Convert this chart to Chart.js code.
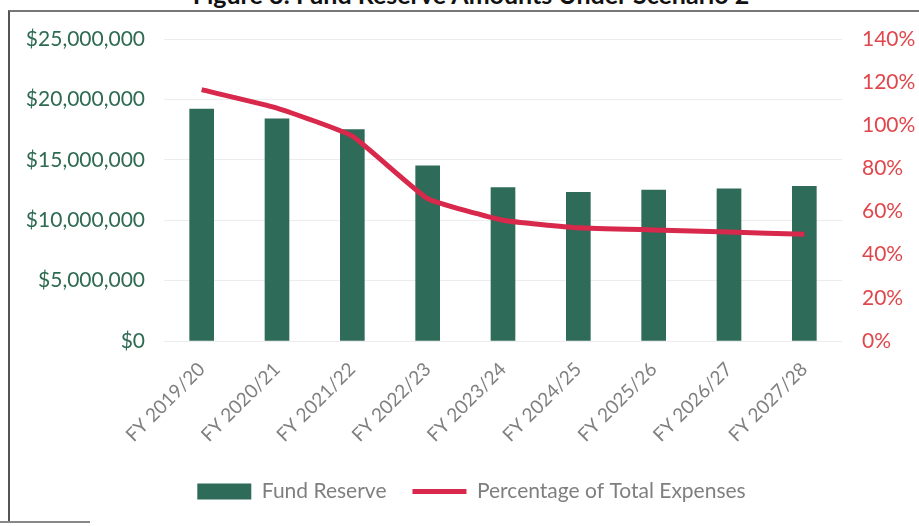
<!DOCTYPE html>
<html>
<head>
<meta charset="utf-8">
<script src="https://cdn.jsdelivr.net/npm/chart.js@4.4.1/dist/chart.umd.min.js"></script>
<style>
  html, body { margin: 0; padding: 0; background: #fff; overflow: hidden; }
  #wrap { position: relative; width: 919px; height: 526px; }
  #frame { position: absolute; left: 8px; top: 10px; width: 1000px; height: 510px;
           border-left: 2px solid #555; border-top: 2px solid #777; }
  #frameBottom { position: absolute; left: 0; top: 521px; width: 90px; height: 0; border-top: 2px solid #888; }
  #title { position: absolute; left: 0; width: 942px; top: -21px; text-align: center;
           font: bold 25px Lato, sans-serif; color: #111; }
  canvas { position: absolute; left: 0; top: 0; }
</style>
</head>
<body>
<div id="wrap">
  <div id="frame"></div>
  <div id="frameBottom"></div>
  <div id="title">Figure 3: Fund Reserve Amounts Under Scenario 2</div>
  <canvas id="chart" width="919" height="526"></canvas>
</div>
<script>
const years = ["FY 2019/20", "FY 2020/21", "FY 2021/22", "FY 2022/23", "FY 2023/24",
               "FY 2024/25", "FY 2025/26", "FY 2026/27", "FY 2027/28"];
const fundReserve = [19200000, 18400000, 17500000, 14500000, 12700000,
                     12300000, 12500000, 12600000, 12800000];
const pctOfExpenses = [116.5, 108, 95, 66, 56, 52.5, 51.5, 50.5, 49.5];

const GREEN = "#2f6b59";
const RED = "#d8284c";
const FONT = "Lato, sans-serif";

new Chart(document.getElementById("chart"), {
    type: "bar",
    data: {
        labels: years,
        datasets: [
            {
                label: "Fund Reserve",
                data: fundReserve,
                backgroundColor: GREEN,
                barThickness: 24,
                yAxisID: "y",
                order: 2,
                pointStyle: "rect"
            },
            {
                type: "line",
                label: "Percentage of Total Expenses",
                data: pctOfExpenses,
                borderColor: RED,
                backgroundColor: RED,
                borderWidth: 5,
                pointRadius: 0,
                tension: 0.12,
                yAxisID: "y1",
                order: 1,
                pointStyle: "line"
            }
        ]
    },
    options: {
        responsive: false,
        animation: false,
        layout: { padding: { top: 39, bottom: 14, left: 24, right: 0 } },
        plugins: {
            tooltip: { enabled: false },
            legend: {
                position: "bottom",
                labels: {
                    usePointStyle: true,
                    pointStyleWidth: 54,
                    boxHeight: 16,
                    padding: 26,
                    color: "#7f7f7f",
                    font: { family: FONT, size: 21 },
                    sort: (a, b) => a.datasetIndex - b.datasetIndex
                }
            }
        },
        scales: {
            x: {
                grid: { display: false },
                border: { display: false },
                ticks: {
                    autoSkip: false,
                    minRotation: 45,
                    maxRotation: 45,
                    padding: 9,
                    color: "#7f7f7f",
                    font: { family: FONT, size: 19 }
                },
                afterFit: s => { s.height = 114; }
            },
            y: {
                position: "left",
                min: 0,
                max: 25000000,
                grid: { color: "#ececec", lineWidth: 1, drawTicks: false },
                border: { display: false },
                ticks: {
                    stepSize: 5000000,
                    padding: 19,
                    color: "#2e6b52",
                    font: { family: FONT, size: 21 },
                    callback: v => "$" + v.toLocaleString("en-US")
                },
                afterFit: s => { s.width = 140; }
            },
            y1: {
                position: "right",
                min: 0,
                max: 140,
                grid: { display: false, drawTicks: false },
                border: { display: false },
                ticks: {
                    stepSize: 20,
                    padding: 20,
                    color: "#e0474c",
                    font: { family: FONT, size: 21 },
                    callback: v => v + "%"
                },
                afterFit: s => { s.width = 77; }
            }
        }
    }
});
</script>
</body>
</html>
